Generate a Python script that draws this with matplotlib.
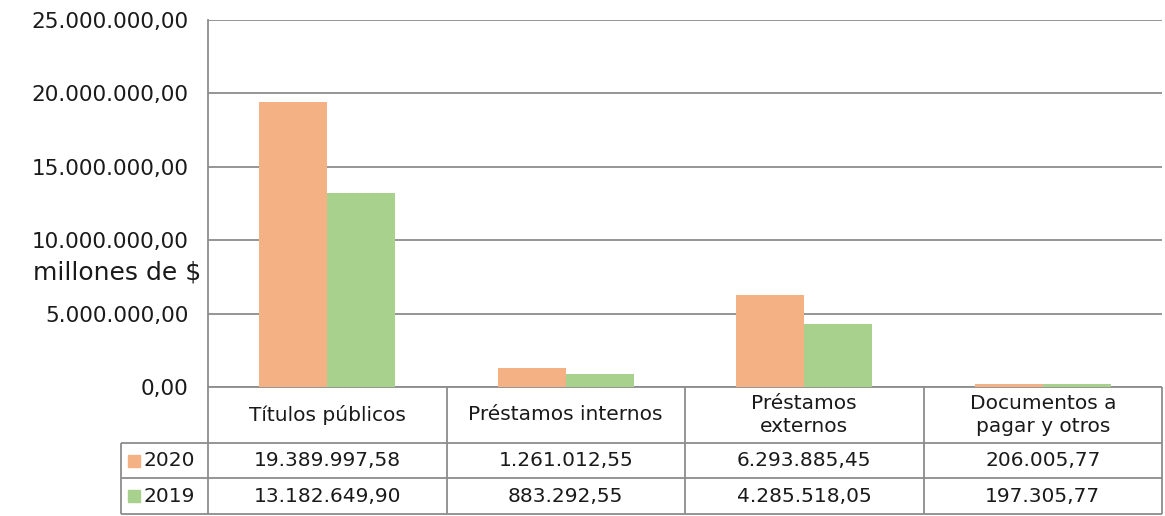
import matplotlib.pyplot as plt
import matplotlib.transforms as mtransforms
import numpy as np

plt.rcParams['font.family'] = ['DejaVu Sans']

categorias = ['Títulos públicos', 'Préstamos internos', 'Préstamos\nexternos', 'Documentos a\npagar y otros']
series = ['2020', '2019']
valores_2020 = [19389997.58, 1261012.55, 6293885.45, 206005.77]
valores_2019 = [13182649.90, 883292.55, 4285518.05, 197305.77]
colores = ['#F4B183', '#A9D18E']
y_ticks = [0, 5000000, 10000000, 15000000, 20000000, 25000000]

line_col = '#8c8c8c'
txt_col = '#1a1a1a'


def fmt_es(v):
    s = f"{v:,.2f}"
    return s.replace(',', 'X').replace('.', ',').replace('X', '.')


fig = plt.figure(figsize=(11.65, 5.16), dpi=100)
W, H = 1165, 516
ax = fig.add_axes([208 / W, (H - 387) / H, 954 / W, 367 / H])

x = np.arange(len(categorias))
bw = 0.285
ax.bar(x - bw / 2, valores_2020, bw, color=colores[0], zorder=3)
ax.bar(x + bw / 2, valores_2019, bw, color=colores[1], zorder=3)

ax.set_xlim(-0.5, len(categorias) - 0.5)
ax.set_ylim(0, 25000000)
ax.set_yticks(y_ticks)
ax.set_yticklabels([fmt_es(v) for v in y_ticks], fontsize=15.5, color=txt_col)
ax.tick_params(axis='y', length=0, pad=14)
ax.set_xticks([])
ax.grid(axis='y', color=line_col, linewidth=1.3, zorder=0)
for s in ['top', 'right', 'bottom']:
    ax.spines[s].set_visible(False)
ax.spines['left'].set_color(line_col)
ax.spines['left'].set_linewidth(1.3)

ax.set_ylabel('millones de $', rotation=0, fontsize=18, ha='right', va='center', color=txt_col)
ax.yaxis.set_label_coords(-0.007, 0.313)

# data table below the plot
tr = mtransforms.blended_transform_factory(ax.transData, ax.transAxes)
y_head = -56 / 367
y_r1 = -91 / 367
y_r2 = -127 / 367
x_left = -0.5 - 87 / 238.5
x_right = len(categorias) - 0.5

kw = dict(transform=tr, color=line_col, linewidth=1.3, clip_on=False, solid_capstyle='butt')
for xv in np.arange(-0.5, len(categorias), 1.0):
    ax.plot([xv, xv], [0, y_r2], **kw)
ax.plot([x_left, x_left], [y_head, y_r2], **kw)
ax.plot([-0.5, x_right], [0, 0], **kw)
for yv in [y_head, y_r1, y_r2]:
    ax.plot([x_left, x_right], [yv, yv], **kw)

for i, c in enumerate(categorias):
    ax.text(i, y_head / 2, c, transform=tr, ha='center', va='center',
            fontsize=14.5, linespacing=1.25, color=txt_col)

rows = [valores_2020, valores_2019]
row_mid = [(y_head + y_r1) / 2, (y_r1 + y_r2) / 2]
for r, (name, vals, col) in enumerate(zip(series, rows, colores)):
    ym = row_mid[r]
    ax.plot([x_left + 0.055], [ym], marker='s', markersize=9, color=col,
            transform=tr, clip_on=False, linestyle='none')
    ax.text(x_left + 0.093, ym, name, transform=tr, ha='left', va='center',
            fontsize=14.5, color=txt_col)
    for i, v in enumerate(vals):
        ax.text(i, ym, fmt_es(v), transform=tr, ha='center', va='center',
                fontsize=14.5, color=txt_col)

fig.savefig('out.png', dpi=100)
